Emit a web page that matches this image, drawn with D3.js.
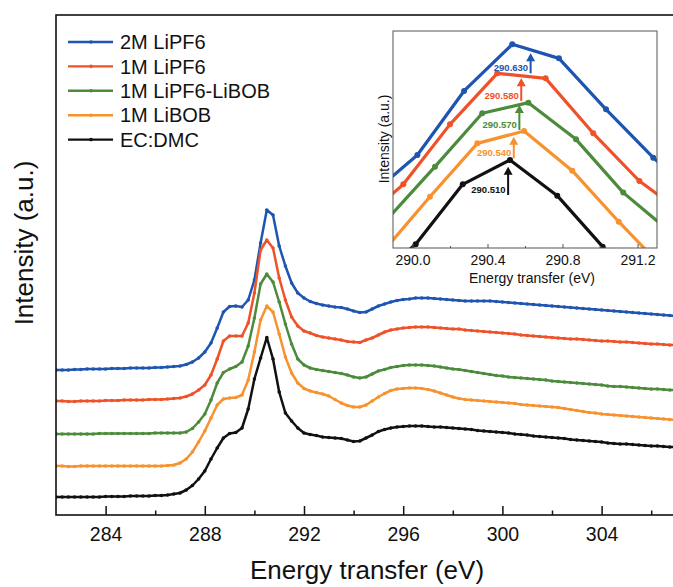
<!DOCTYPE html>
<html><head><meta charset="utf-8">
<script src="https://cdn.jsdelivr.net/npm/d3@7"></script>
<style>
body{margin:0;background:#fff}
svg{display:block}
text{font-family:"Liberation Sans",Arial,Helvetica,sans-serif;fill:#111}
</style>
</head><body>
<svg id="chart" width="673" height="587"></svg>
<script>
// ---------------- DATA ----------------
const seriesNames = ["2M LiPF6", "1M LiPF6", "1M LiPF6-LiBOB", "1M LiBOB", "EC:DMC"];
const seriesColors = ["#1d55b0", "#ef5128", "#4b8b3b", "#f7922f", "#111111"];

const energy = [282,282.25,282.5,282.75,283,283.25,283.5,283.75,284,284.25,284.5,284.75,285,285.25,285.5,285.75,286,286.25,286.5,286.75,287,287.25,287.5,287.75,288,288.25,288.5,288.75,289,289.25,289.5,289.75,290,290.25,290.5,290.75,291,291.25,291.5,291.75,292,292.25,292.5,292.75,293,293.25,293.5,293.75,294,294.25,294.5,294.75,295,295.25,295.5,295.75,296,296.25,296.5,296.75,297,297.25,297.5,297.75,298,298.25,298.5,298.75,299,299.25,299.5,299.75,300,300.25,300.5,300.75,301,301.25,301.5,301.75,302,302.25,302.5,302.75,303,303.25,303.5,303.75,304,304.25,304.5,304.75,305,305.25,305.5,305.75,306,306.25,306.5,306.75,307];

const lipf6_2M = [1.45,1.45,1.45,1.455,1.455,1.46,1.46,1.46,1.46,1.465,1.465,1.465,1.47,1.47,1.47,1.47,1.475,1.475,1.48,1.485,
1.49,1.505,1.53,1.57,1.63,1.72,1.87,2.03,2.085,2.09,
2.08,2.15,2.35,2.72,3.05,3.00,2.69,2.49,2.32,2.22,
2.17,2.135,2.115,2.10,2.09,2.08,2.075,2.06,2.04,2.025,
2.03,2.06,2.09,2.11,2.13,2.145,2.155,2.16,2.17,2.17,
2.17,2.165,2.16,2.155,2.15,2.145,2.14,2.14,2.14,2.14,
2.14,2.135,2.13,2.125,2.12,2.115,2.11,2.105,2.10,2.095,
2.09,2.085,2.08,2.075,2.07,2.065,2.06,2.055,2.05,2.045,
2.04,2.035,2.03,2.025,2.02,2.015,2.01,2.005,2.00,1.995,
1.99];

const lipf6_1M = [1.14,1.14,1.135,1.135,1.14,1.14,1.14,1.14,1.145,1.145,1.145,1.15,1.15,1.15,1.15,1.155,1.155,1.155,1.16,1.165,
1.17,1.185,1.21,1.25,1.30,1.40,1.56,1.74,1.79,1.79,
1.79,1.92,2.22,2.65,2.75,2.67,2.37,2.15,1.98,1.89,
1.84,1.82,1.795,1.78,1.77,1.76,1.75,1.735,1.73,1.725,
1.75,1.77,1.80,1.83,1.85,1.86,1.87,1.875,1.88,1.88,
1.88,1.875,1.87,1.865,1.86,1.86,1.85,1.845,1.84,1.835,
1.83,1.825,1.82,1.815,1.81,1.80,1.795,1.79,1.785,1.78,
1.775,1.77,1.765,1.76,1.76,1.755,1.75,1.745,1.74,1.74,
1.735,1.73,1.73,1.725,1.72,1.715,1.71,1.71,1.705,1.70,
1.70];

const lipf6_libob = [0.81,0.81,0.81,0.81,0.81,0.81,0.81,0.815,0.815,0.815,0.815,0.815,0.815,0.815,0.815,0.815,0.82,0.82,0.82,0.82,
0.82,0.83,0.865,0.93,1.01,1.15,1.32,1.425,1.46,1.485,
1.53,1.69,1.97,2.31,2.41,2.33,2.13,1.91,1.71,1.56,
1.50,1.47,1.455,1.445,1.435,1.425,1.415,1.40,1.38,1.37,
1.38,1.41,1.44,1.455,1.475,1.485,1.495,1.50,1.50,1.50,
1.495,1.49,1.48,1.47,1.46,1.455,1.445,1.435,1.425,1.415,
1.405,1.395,1.39,1.38,1.375,1.37,1.365,1.36,1.355,1.35,
1.34,1.335,1.33,1.325,1.32,1.315,1.31,1.305,1.30,1.29,
1.285,1.285,1.28,1.275,1.27,1.265,1.26,1.26,1.255,1.25,
1.25];

const libob_1M = [0.49,0.49,0.485,0.485,0.49,0.49,0.49,0.49,0.49,0.49,0.49,0.49,0.49,0.49,0.49,0.49,0.49,0.49,0.495,0.50,
0.52,0.56,0.63,0.73,0.84,0.97,1.10,1.16,1.17,1.175,
1.20,1.35,1.63,1.95,2.09,2.03,1.81,1.58,1.42,1.32,
1.265,1.24,1.225,1.21,1.19,1.155,1.12,1.095,1.08,1.08,
1.10,1.14,1.18,1.215,1.245,1.26,1.265,1.27,1.27,1.265,
1.255,1.24,1.22,1.20,1.18,1.165,1.155,1.15,1.145,1.14,
1.135,1.13,1.125,1.12,1.115,1.105,1.10,1.095,1.09,1.085,
1.08,1.075,1.065,1.055,1.045,1.035,1.025,1.02,1.01,1.005,
1.00,0.995,0.99,0.985,0.98,0.975,0.97,0.965,0.96,0.955,
0.95];

const ecdmc = [0.18,0.18,0.18,0.18,0.18,0.18,0.18,0.18,0.185,0.185,0.185,0.185,0.19,0.19,0.19,0.19,0.195,0.195,0.20,0.21,
0.22,0.25,0.295,0.36,0.44,0.56,0.67,0.77,0.815,0.825,
0.87,1.06,1.36,1.57,1.775,1.56,1.23,1.02,0.94,0.87,
0.82,0.805,0.795,0.78,0.775,0.77,0.765,0.75,0.735,0.74,
0.77,0.80,0.835,0.855,0.87,0.88,0.885,0.89,0.89,0.89,
0.885,0.88,0.88,0.875,0.87,0.865,0.86,0.855,0.845,0.84,
0.835,0.83,0.825,0.82,0.81,0.805,0.80,0.79,0.785,0.78,
0.775,0.77,0.765,0.755,0.75,0.745,0.74,0.735,0.73,0.72,
0.715,0.71,0.71,0.705,0.70,0.695,0.69,0.69,0.685,0.68,
0.68];

const mainSeries = [lipf6_2M, lipf6_1M, lipf6_libob, libob_1M, ecdmc];
const mainMajorTicks = [284, 288, 292, 296, 300, 304];
const mainMinorTicks = [286, 290, 294, 298, 302, 306];

// inset (zoom on the main peak)
const insetE_2M   = [289.776, 290.026, 290.275, 290.532, 290.781, 291.032, 291.284, 291.534];
const insetV_2M   = [1.385, 1.833, 2.544, 3.062, 2.906, 2.340, 1.803, 1.35];
const insetE_1M   = [289.701, 289.951, 290.200, 290.452, 290.710, 290.964, 291.210, 291.460];
const insetV_1M   = [1.05, 1.507, 2.173, 2.740, 2.684, 2.074, 1.544, 1.16];
const insetE_mix  = [289.870, 290.120, 290.372, 290.618, 290.872, 291.124, 291.374];
const insetV_mix  = [1.13, 1.703, 2.296, 2.414, 2.007, 1.415, 0.98];
const insetE_bob  = [289.843, 290.093, 290.346, 290.595, 290.852, 291.100, 291.350];
const insetV_bob  = [0.76, 1.370, 1.962, 2.099, 1.659, 1.092, 0.55];
const insetE_ec   = [289.767, 290.017, 290.268, 290.520, 290.772, 291.014, 291.264];
const insetV_ec   = [0.40, 0.841, 1.507, 1.777, 1.381, 0.815, 0.30];
const insetE = [insetE_2M, insetE_1M, insetE_mix, insetE_bob, insetE_ec];
const insetV = [insetV_2M, insetV_1M, insetV_mix, insetV_bob, insetV_ec];
const insetMajorTicks = [290.0, 290.4, 290.8, 291.2];
const insetMinorTicks = [290.2, 290.6, 291.0];

const peakLabels = ["290.630", "290.580", "290.570", "290.540", "290.510"];
const peakEnergy = [290.63, 290.58, 290.57, 290.54, 290.51];
const arrowTip  = [2.962, 2.685, 2.388, 2.036, 1.703];
const arrowBase = [2.740, 2.433, 2.111, 1.796, 1.389];

// ---------------- DRAW ----------------
const svg = d3.select("#chart");

const x = d3.scaleLinear().domain([282, 308]).range([56, 700.8]);
const y = d3.scaleLinear().domain([0, 5]).range([515, 15]);

svg.append("clipPath").attr("id", "mainClip")
  .append("rect").attr("x", 56).attr("y", 15).attr("width", 700).attr("height", 500);

const gMain = svg.append("g").attr("clip-path", "url(#mainClip)");
const line = d3.line().x((d, i) => x(energy[i])).y(d => y(d));

mainSeries.forEach((s, k) => {
  gMain.append("path").datum(s)
    .attr("d", line).attr("fill", "none")
    .attr("stroke", seriesColors[k]).attr("stroke-width", 2.5)
    .attr("stroke-linejoin", "round");
  gMain.selectAll(null).data(s).enter().append("circle")
    .attr("cx", (d, i) => x(energy[i])).attr("cy", d => y(d))
    .attr("r", 1.8).attr("fill", seriesColors[k]);
});

// frame
svg.append("rect").attr("x", 56).attr("y", 15).attr("width", 700).attr("height", 500)
  .attr("fill", "none").attr("stroke", "#111").attr("stroke-width", 1.6);

// x axis ticks (inward)
const xAxis = d3.axisBottom(x).tickValues(mainMajorTicks).tickSize(-9).tickPadding(12)
  .tickFormat(d3.format("d"));
const gx = svg.append("g").attr("transform", "translate(0,515)").call(xAxis);
gx.select(".domain").remove();
gx.selectAll(".tick line").attr("stroke", "#111").attr("stroke-width", 1.5);
gx.selectAll(".tick text").attr("font-size", 19.5).attr("fill", "#111")
  .style("font-family", "'Liberation Sans', Arial, sans-serif");
const gxm = svg.append("g").attr("transform", "translate(0,515)")
  .call(d3.axisBottom(x).tickValues(mainMinorTicks).tickSize(-4.5).tickFormat(""));
gxm.select(".domain").remove();
gxm.selectAll(".tick line").attr("stroke", "#111").attr("stroke-width", 1.5);

// axis titles
svg.append("text").attr("x", 367).attr("y", 579).attr("text-anchor", "middle")
  .attr("font-size", 26).text("Energy transfer (eV)");
svg.append("text").attr("transform", "translate(33,243) rotate(-90)")
  .attr("text-anchor", "middle").attr("font-size", 26).text("Intensity (a.u.)");

// legend
const legendY = [42, 66.4, 90.8, 115.2, 139.6];
seriesNames.forEach((n, k) => {
  const g = svg.append("g").attr("transform", `translate(0,${legendY[k]})`);
  g.append("line").attr("x1", 68).attr("x2", 113).attr("y1", 0).attr("y2", 0)
    .attr("stroke", seriesColors[k]).attr("stroke-width", 2.4);
  g.append("circle").attr("cx", 91).attr("cy", 0).attr("r", 1.8).attr("fill", seriesColors[k]);
  g.append("text").attr("x", 120).attr("y", 7.2).attr("font-size", 20).text(n);
});

// ---------------- INSET ----------------
const ix = d3.scaleLinear().domain([289.896, 291.304]).range([393, 657]);
const iy = d3.scaleLinear().domain([0.80, 3.21]).range([248, 31]);

svg.append("rect").attr("x", 393).attr("y", 31).attr("width", 264).attr("height", 217)
  .attr("fill", "#fff");
svg.append("clipPath").attr("id", "insetClip")
  .append("rect").attr("x", 393).attr("y", 31).attr("width", 264).attr("height", 217);
const gIn = svg.append("g").attr("clip-path", "url(#insetClip)");

insetE.forEach((es, k) => {
  const pts = es.map((e, i) => [e, insetV[k][i]]);
  gIn.append("path").datum(pts)
    .attr("d", d3.line().x(d => ix(d[0])).y(d => iy(d[1])))
    .attr("fill", "none").attr("stroke", seriesColors[k]).attr("stroke-width", 3.2)
    .attr("stroke-linejoin", "round");
  gIn.selectAll(null).data(pts).enter().append("circle")
    .attr("cx", d => ix(d[0])).attr("cy", d => iy(d[1])).attr("r", 3)
    .attr("fill", seriesColors[k]);
});

// arrows + labels
peakEnergy.forEach((e, k) => {
  const ax = ix(e), ty = iy(arrowTip[k]), by = iy(arrowBase[k]);
  gIn.append("line").attr("x1", ax).attr("x2", ax).attr("y1", by).attr("y2", ty + 6)
    .attr("stroke", seriesColors[k]).attr("stroke-width", 2);
  gIn.append("path").attr("d", `M${ax},${ty} L${ax - 4.5},${ty + 8} L${ax + 4.5},${ty + 8} Z`)
    .attr("fill", seriesColors[k]);
  gIn.append("text").attr("x", ax - 2.5).attr("y", by - 2).attr("text-anchor", "end")
    .attr("font-size", 9.5).attr("font-weight", "bold").style("fill", seriesColors[k])
    .text(peakLabels[k]);
});

svg.append("rect").attr("x", 393).attr("y", 31).attr("width", 264).attr("height", 217)
  .attr("fill", "none").attr("stroke", "#555").attr("stroke-width", 1);

const ixa = svg.append("g").attr("transform", "translate(0,248)")
  .call(d3.axisBottom(ix).tickValues(insetMajorTicks).tickSize(-4).tickPadding(7)
    .tickFormat(d3.format(".1f")));
ixa.select(".domain").remove();
ixa.selectAll(".tick line").attr("stroke", "#555");
ixa.selectAll(".tick text").attr("font-size", 14).attr("fill", "#111")
  .style("font-family", "'Liberation Sans', Arial, sans-serif");
const ixm = svg.append("g").attr("transform", "translate(0,248)")
  .call(d3.axisBottom(ix).tickValues(insetMinorTicks).tickSize(-2).tickFormat(""));
ixm.select(".domain").remove();
ixm.selectAll(".tick line").attr("stroke", "#555");

svg.append("text").attr("x", 532).attr("y", 283).attr("text-anchor", "middle")
  .attr("font-size", 14).text("Energy transfer (eV)");
svg.append("text").attr("transform", "translate(389,139) rotate(-90)")
  .attr("text-anchor", "middle").attr("font-size", 14).text("Intensity (a.u.)");
</script>
</body></html>
